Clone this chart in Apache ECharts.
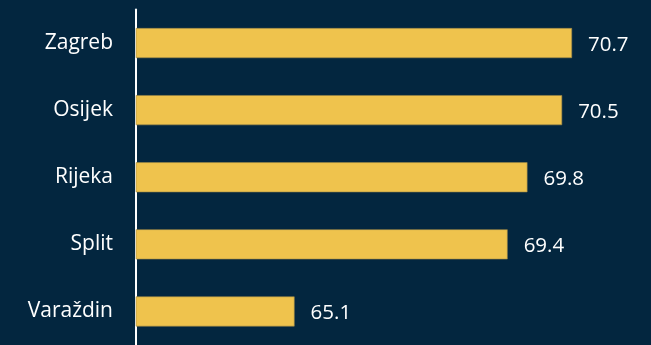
<!DOCTYPE html>
<html>
<head>
<meta charset="utf-8">
<script src="https://cdn.jsdelivr.net/npm/echarts@6/dist/echarts.min.js"></script>
<style>
html,body{margin:0;padding:0;background:#03263f;}
#chart{width:651px;height:345px;}
</style>
</head>
<body>
<div id="chart"></div>
<script>
const categories = ['Zagreb', 'Osijek', 'Rijeka', 'Split', 'Varaždin'];
const values = [70.7, 70.5, 69.8, 69.4, 65.1];
const axisMin = 61.9;
const axisMax = 71.9;

const chart = echarts.init(document.getElementById('chart'), null, {renderer: 'canvas'});
chart.setOption({
  backgroundColor: '#03263f',
  animation: false,
  grid: {left: 136, top: 9.5, height: 339.5, right: 19.5, containLabel: false},
  xAxis: {
    type: 'value', min: axisMin, max: axisMax,
    show: false
  },
  yAxis: {
    type: 'category', inverse: true, data: categories,
    axisLine: {show: true, lineStyle: {color: '#ffffff', width: 2}},
    axisTick: {show: false},
    splitLine: {show: false},
    axisLabel: {color: '#ffffff', fontFamily: 'Open Sans', fontSize: 21, margin: 23}
  },
  series: [{
    type: 'bar',
    data: values,
    barWidth: 30,
    itemStyle: {color: '#efc34d', borderColor: '#9c8748', borderWidth: 0.6},
    label: {
      show: true, position: 'right', distance: 16, offset: [0, 2],
      color: '#ffffff', fontFamily: 'Open Sans', fontSize: 20.5,
      formatter: p => p.value.toFixed(1)
    }
  }]
});
</script>
</body>
</html>
